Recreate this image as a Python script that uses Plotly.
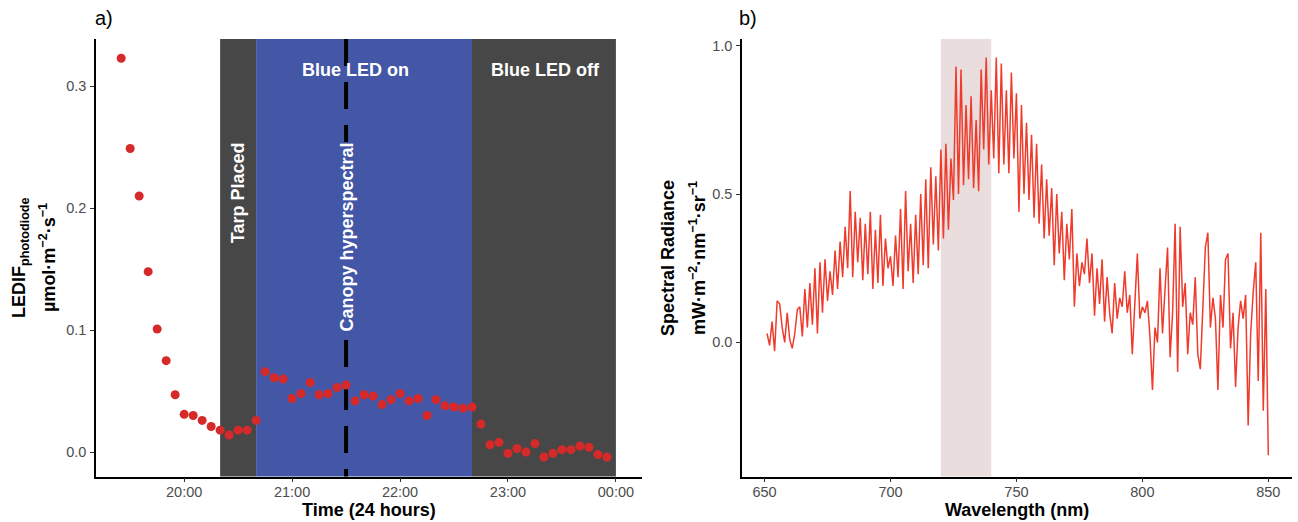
import plotly.graph_objects as go

# ---------------- data: panel a ----------------
times = ["19:25","19:30","19:35","19:40","19:45","19:50","19:55",
         "20:00","20:05","20:10","20:15","20:20","20:25","20:30","20:35","20:40","20:45","20:50","20:55",
         "21:00","21:05","21:10","21:15","21:20","21:25","21:30","21:35","21:40","21:45","21:50","21:55",
         "22:00","22:05","22:10","22:15","22:20","22:25","22:30","22:35","22:40","22:45","22:50","22:55",
         "23:00","23:05","23:10","23:15","23:20","23:25","23:30","23:35","23:40","23:45","23:50","23:55"]
ledif = [0.323, 0.249, 0.210, 0.148, 0.101, 0.075, 0.047,
         0.031, 0.030, 0.026, 0.021, 0.018, 0.014, 0.018, 0.018, 0.026, 0.066, 0.061, 0.060,
         0.044, 0.048, 0.057, 0.047, 0.048, 0.053, 0.055, 0.042, 0.047, 0.046, 0.039, 0.043,
         0.048, 0.042, 0.044, 0.030, 0.043, 0.038, 0.037, 0.036, 0.037, 0.023, 0.006, 0.008,
         -0.001, 0.003, 0.000, 0.007, -0.004, -0.001, 0.002, 0.002, 0.005, 0.004, -0.002, -0.004]

tarp_start, blue_start, blue_end, night_end = "20:20", "20:40", "22:40", "24:00"
hyperspectral_time = "21:30"
y_ticks_a = [0.0, 0.1, 0.2, 0.3]
x_tick_labels_a = ["20:00", "21:00", "22:00", "23:00", "00:00"]

# ---------------- data: panel b ----------------
wavelength = list(range(651, 851))
radiance = [
    0.03, -0.01, 0.07, -0.03, 0.14, 0.13, 0.05, 0.00, 0.10, 0.01,
    -0.02, 0.03, 0.11, 0.12, 0.02, 0.18, 0.05, 0.20, 0.06, 0.25,
    0.03, 0.27, 0.10, 0.28, 0.14, 0.24, 0.16, 0.31, 0.18, 0.34,
    0.22, 0.39, 0.25, 0.51, 0.22, 0.44, 0.27, 0.42, 0.21, 0.40,
    0.23, 0.44, 0.18, 0.38, 0.20, 0.43, 0.19, 0.35, 0.25, 0.29,
    0.19, 0.36, 0.22, 0.45, 0.18, 0.51, 0.24, 0.40, 0.20, 0.43,
    0.23, 0.50, 0.26, 0.55, 0.25, 0.59, 0.33, 0.56, 0.31, 0.65,
    0.35, 0.67, 0.38, 0.62, 0.48, 0.93, 0.50, 0.92, 0.53, 0.80,
    0.55, 0.83, 0.52, 0.75, 0.51, 0.92, 0.65, 0.96, 0.60, 0.85,
    0.62, 0.96, 0.57, 0.94, 0.60, 0.85, 0.57, 0.91, 0.62, 0.84,
    0.44, 0.80, 0.50, 0.74, 0.48, 0.70, 0.42, 0.67, 0.40, 0.60,
    0.35, 0.55, 0.36, 0.52, 0.26, 0.50, 0.30, 0.44, 0.21, 0.40,
    0.28, 0.45, 0.12, 0.30, 0.19, 0.27, 0.23, 0.35, 0.20, 0.30,
    0.09, 0.25, 0.13, 0.28, 0.07, 0.22, 0.10, 0.03, 0.20, 0.08,
    0.15, 0.12, 0.24, 0.10, 0.16, -0.04, 0.13, 0.30, 0.08, 0.12,
    0.10, 0.14, 0.02, -0.16, 0.05, 0.00, 0.25, 0.03, 0.18, 0.32,
    -0.05, 0.10, 0.40, -0.10, 0.39, 0.12, 0.20, -0.04, 0.10, 0.06,
    0.22, -0.04, -0.09, 0.10, 0.32, 0.37, 0.05, 0.15, 0.08, -0.16,
    0.16, 0.05, 0.28, 0.30, -0.02, 0.10, -0.15, 0.05, 0.14, 0.08,
    0.16, -0.28, 0.03, 0.17, 0.27, -0.13, 0.37, -0.23, 0.18, -0.38,
]
band = [720, 740]
x_ticks_b = [650, 700, 750, 800, 850]
y_ticks_b = [0.0, 0.5, 1.0]

# ---------------- helpers ----------------
DAY = "2021-06-01 "
NEXT = "2021-06-02 "
def ts(hm):
    h, m = hm.split(":")
    if int(h) >= 24:
        return NEXT + "%02d:%s" % (int(h) - 24, m)
    return DAY + hm

FONT = "Liberation Sans, Arial, sans-serif"
GRAY_BG = "#474747"
BLUE_BG = "#4357A6"
W, H = 1298, 522

def px_x(p):
    return p / W
def px_y(p):
    return 1 - p / H

fig = go.Figure()

fig.add_trace(go.Scatter(
    x=[ts(t) for t in times], y=ledif, mode="markers",
    marker=dict(size=9, color="#D62A2A", line=dict(width=0)),
    xaxis="x", yaxis="y", showlegend=False, hoverinfo="skip"))

fig.add_trace(go.Scatter(
    x=wavelength, y=radiance, mode="lines",
    line=dict(color="#EF3B2C", width=1.5),
    xaxis="x2", yaxis="y2", showlegend=False, hoverinfo="skip"))

shapes = [
    dict(type="rect", xref="x", yref="y domain", x0=ts(tarp_start), x1=ts(blue_start), y0=0, y1=1,
         fillcolor=GRAY_BG, line=dict(width=0), layer="below"),
    dict(type="rect", xref="x", yref="y domain", x0=ts(blue_start), x1=ts(blue_end), y0=0, y1=1,
         fillcolor=BLUE_BG, line=dict(width=0), layer="below"),
    dict(type="rect", xref="x", yref="y domain", x0=ts(blue_end), x1=ts(night_end), y0=0, y1=1,
         fillcolor=GRAY_BG, line=dict(width=0), layer="below"),
    dict(type="line", xref="x", yref="y domain", x0=ts(hyperspectral_time), x1=ts(hyperspectral_time),
         y0=1, y1=0, line=dict(color="black", width=4, dash="27px,16px"), layer="below"),
    dict(type="rect", xref="x2", yref="y2 domain", x0=band[0], x1=band[1], y0=0, y1=1,
         fillcolor="#E9DDDD", line=dict(width=0), layer="below"),
]

ydom = [px_y(476.5), px_y(39)]
axis_common = dict(showline=True, linecolor="black", linewidth=1.6, ticks="outside",
                   ticklen=4, tickwidth=1.3, tickcolor="#333333", showgrid=False, zeroline=False,
                   tickfont=dict(family=FONT, size=14.5, color="#4D4D4D"))

fig.update_layout(
    width=W, height=H, margin=dict(l=0, r=0, t=0, b=0),
    paper_bgcolor="white", plot_bgcolor="white",
    font=dict(family=FONT),
    shapes=shapes,
    xaxis=dict(domain=[px_x(96), px_x(642)], anchor="y", type="date",
               range=[DAY + "19:11:00", NEXT + "00:14:30"],
               tickvals=[ts(h) for h in ["20:00", "21:00", "22:00", "23:00", "24:00"]],
               ticktext=x_tick_labels_a, ticklabelstandoff=-3, **axis_common),
    yaxis=dict(domain=ydom, anchor="x", range=[-0.0200, 0.3388],
               tickvals=y_ticks_a, ticktext=["0.0", "0.1", "0.2", "0.3"],
               ticklabelstandoff=1, **axis_common),
    xaxis2=dict(domain=[px_x(742), px_x(1292)], anchor="y2", range=[641.05, 859.4],
                tickvals=x_ticks_b, ticklabelstandoff=-3, **axis_common),
    yaxis2=dict(domain=ydom, anchor="x2", range=[-0.452, 1.0228],
                tickvals=y_ticks_b, ticktext=["0.0", "0.5", "1.0"],
                ticklabelstandoff=1, **axis_common),
)

ann = []
def add(text, x, y, xref="paper", yref="paper", size=18, color="black", angle=0, bg=None, **kw):
    d = dict(text=text, x=x, y=y, xref=xref, yref=yref, showarrow=False, textangle=angle,
             font=dict(family=FONT, size=size, color=color), xanchor="center", yanchor="middle")
    if bg:
        d["bgcolor"] = bg
    d.update(kw)
    ann.append(d)

# panel labels
add("a)", px_x(104), px_y(18), size=20)
add("b)", px_x(748), px_y(18), size=20)
# axis titles
add("<b>Time (24 hours)</b>", px_x(369), px_y(510))
add("<b>Wavelength (nm)</b>", px_x(1017), px_y(510))
add("<b>LEDIF<sub>photodiode</sub></b>", px_x(20), px_y(258), angle=-90)
add("<b>µmol·m<sup>−2</sup>·s<sup>−1</sup></b>", px_x(47), px_y(258), angle=-90)
add("<b>Spectral Radiance</b>", px_x(668), px_y(258), angle=-90)
add("<b>mW·m<sup>−2</sup>·nm<sup>−1</sup>·sr<sup>−1</sup></b>", px_x(697), px_y(258), angle=-90)
# in-plot labels
add("<b>Blue LED on</b>", ts("21:35"), 0.3134, xref="x", yref="y", color="white", size=18)
add("<b>Blue LED off</b>", ts("23:21"), 0.3134, xref="x", yref="y", color="white", size=18)
add("<b>Tarp Placed</b>", ts("20:30"), 0.2124, xref="x", yref="y", color="white", size=18, angle=-90)
add("<b>Canopy hyperspectral</b>", ts(hyperspectral_time), 0.176, xref="x", yref="y",
    color="white", size=18, angle=-90, bg=BLUE_BG, borderpad=0)

fig.update_layout(annotations=ann)
fig.write_html("out.html", post_script="document.body.style.margin='0';",
               config={"displayModeBar": False})
